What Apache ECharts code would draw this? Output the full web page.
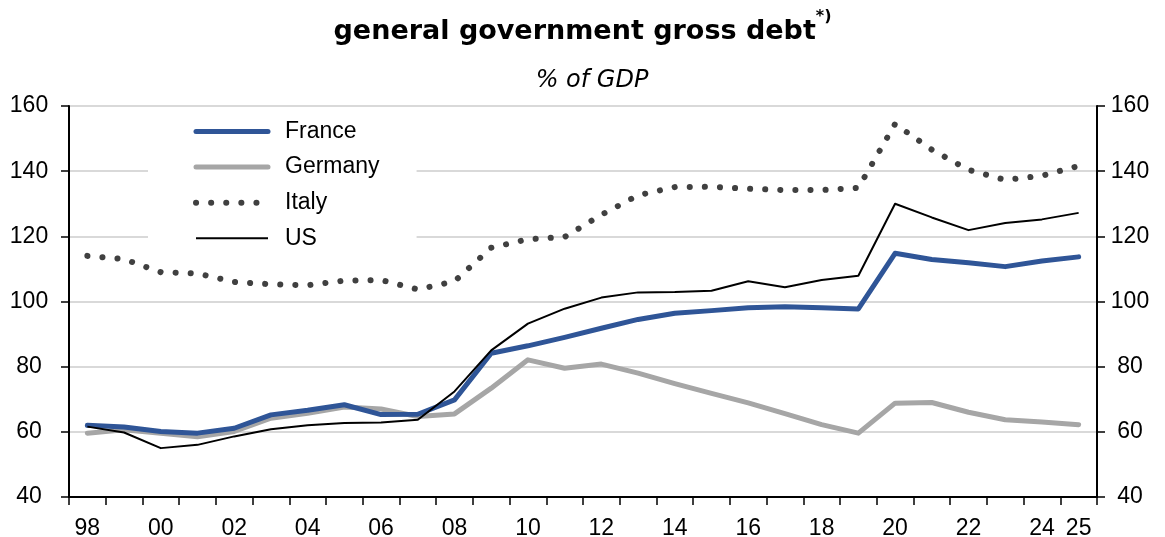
<!DOCTYPE html>
<html>
<head>
<meta charset="utf-8">
<script src="https://cdn.jsdelivr.net/npm/echarts@6/dist/echarts.min.js"></script>
<style>
html,body{margin:0;padding:0;background:#fff;}
#chart{width:1165px;height:537px;}
</style>
</head>
<body>
<div id="chart"></div>
<script>
var years = [1998,1999,2000,2001,2002,2003,2004,2005,2006,2007,2008,2009,2010,2011,2012,2013,2014,2015,2016,2017,2018,2019,2020,2021,2022,2023,2024,2025];
var france = [62.0,61.5,60.1,59.6,61.1,65.2,66.6,68.3,65.3,65.4,69.8,84.1,86.4,89.0,91.8,94.5,96.4,97.2,98.1,98.4,98.1,97.7,114.8,112.9,111.9,110.7,112.4,113.7];
var germany = [59.6,60.6,59.6,58.5,60.1,64.2,65.7,67.6,67.0,64.7,65.5,73.4,82.1,79.5,80.8,78.0,74.8,71.8,68.9,65.6,62.2,59.6,68.8,69.0,66.0,63.7,63.0,62.2];
var italy = [114.0,113.0,109.0,108.6,106.0,105.3,105.0,106.4,106.6,103.7,106.2,116.5,119.1,119.8,126.6,132.6,135.1,135.2,134.6,134.2,134.2,134.9,154.5,146.6,140.4,137.3,138.6,141.6];
var us = [61.6,59.8,55.0,56.0,58.6,60.8,62.0,62.7,62.9,63.7,72.4,85.0,93.2,97.8,101.2,102.8,102.9,103.3,106.2,104.4,106.6,107.9,130.0,125.8,121.9,124.1,125.2,127.2];
var yTicks = [40,60,80,100,120,140,160];

var chart = echarts.init(document.getElementById('chart'), null, {renderer:'canvas'});
var labelFont = "'Liberation Sans', Arial, sans-serif";
var yAxisCommon = {
  type: 'value',
  min: yTicks[0],
  max: yTicks[yTicks.length-1],
  interval: 20,
  axisLine: {show: true, lineStyle: {color: '#000', width: 2}},
  axisTick: {show: true, length: 8, lineStyle: {color: '#000', width: 1.5}},
  axisLabel: {color: '#000', fontSize: 23, fontFamily: labelFont, align: 'center'}
};
var option = {
  animation: false,
  backgroundColor: '#fff',
  title: [{
    text: '{a|general government gross debt}{s|*)}',
    left: 'center',
    top: 4,
    textStyle: {
      rich: {
        a: {fontFamily: 'DejaVu Sans', fontWeight: 'bold', fontSize: 27, color: '#000', lineHeight: 36, verticalAlign: 'bottom'},
        s: {fontFamily: 'DejaVu Sans', fontWeight: 'bold', fontSize: 16, color: '#000', lineHeight: 36, verticalAlign: 'top', padding: [0,0,8,0]}
      }
    }
  }, {
    text: '% of GDP',
    left: 587,
    textAlign: 'center',
    top: 64,
    textStyle: {fontFamily: 'DejaVu Sans', fontStyle: 'italic', fontWeight: 'normal', fontSize: 24, color: '#000'}
  }],
  grid: {left: 69, right: 68, top: 106, bottom: 40, containLabel: false, outerBoundsMode: 'none'},
  legend: {
    orient: 'vertical',
    left: 148,
    top: 112,
    padding: [8, 37, 8, 45],
    backgroundColor: '#fff',
    itemWidth: 72,
    itemHeight: 20,
    itemGap: 12.6,
    itemStyle: {opacity: 0},
    lineStyle: {width: 'inherit'},
    textStyle: {fontFamily: labelFont, fontSize: 23, color: '#000', padding: [0,0,0,12]},
    data: ['France','Germany','Italy','US']
  },
  xAxis: {
    type: 'category',
    data: years,
    boundaryGap: true,
    axisLine: {show: true, lineStyle: {color: '#000', width: 2}},
    axisTick: {show: true, interval: 0, length: 8, lineStyle: {color: '#000', width: 1.5}},
    axisLabel: {
      color: '#000', fontSize: 23, fontFamily: labelFont, margin: 20,
      interval: function(i, v){ var y = +v; return y % 2 === 0 || y === 2025; },
      formatter: function(v){ return String(v).slice(2); }
    },
    splitLine: {show: false}
  },
  yAxis: [
    Object.assign({}, yAxisCommon, {position: 'left', axisLabel: Object.assign({}, yAxisCommon.axisLabel, {margin: 40}), splitLine: {show: true, lineStyle: {color: '#d9d9d9', width: 2}}}),
    Object.assign({}, yAxisCommon, {position: 'right', axisLabel: Object.assign({}, yAxisCommon.axisLabel, {margin: 33}), splitLine: {show: false}})
  ],
  series: [
    {name: 'France', type: 'line', data: france, symbol: 'none', z: 4,
     lineStyle: {color: '#2f5597', width: 5, cap: 'round', join: 'round'}, itemStyle: {color: '#2f5597'}},
    {name: 'Germany', type: 'line', data: germany, symbol: 'none', z: 3,
     lineStyle: {color: '#a6a6a6', width: 5, cap: 'round', join: 'round'}, itemStyle: {color: '#a6a6a6'}},
    {name: 'Italy', type: 'line', data: italy, symbol: 'none', z: 2,
     lineStyle: {color: '#404040', width: 6, type: [0.1, 15], cap: 'round', join: 'round'}, itemStyle: {color: '#404040'}},
    {name: 'US', type: 'line', data: us, symbol: 'none', z: 5,
     lineStyle: {color: '#000', width: 2, join: 'round'}, itemStyle: {color: '#000'}}
  ]
};
chart.setOption(option);
</script>
</body>
</html>
